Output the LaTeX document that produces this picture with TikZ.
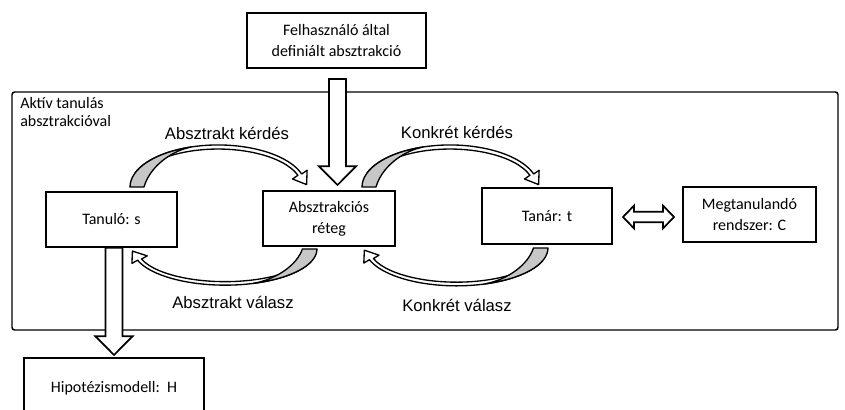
\documentclass[tikz,border=0pt]{standalone}
\usepackage{fontspec}
\setmainfont{Carlito}
\newfontfamily\labelfont{Liberation Sans}
\usetikzlibrary{calc}

\tikzset{
  box/.style={draw, line width=1.5pt, fill=white, inner sep=0pt, align=center,
    font=\fontsize{12}{15.5}\selectfont},
  edgelabel/.style={font=\labelfont\fontsize{12.5}{15}\selectfont, inner sep=0pt},
  framelabel/.style={align=left, inner sep=0pt, font=\fontsize{12}{13.5}\selectfont},
  hollow/.style={draw, line width=1.3pt, fill=white, line join=miter},
  band/.style={draw, line width=1pt, fill=white, line join=round},
  bandshade/.style={draw, line width=1pt, fill=black!22, line join=round},
  % curved band arrow: origin at the outer edge of its wide end
  bendarrow/.pic={
    \path[band] (5.3,-14.4) arc[start angle=200, end angle=342, x radius=88, y radius=42]
      -- (177.1,-16.7) -- (176.6,-2.4) -- (162.5,-8.0) -- (167.9,-11.7)
      arc[start angle=342, end angle=200, x radius=84, y radius=38] -- cycle;
    \path[bandshade] (0,0) arc[start angle=180, end angle=252, x radius=88, y radius=42]
      .. controls (38,-35) and (19,-18) .. (14,0) -- cycle;
  }
}

% hollow block arrow pointing down, from #1 to the tip #2
\newcommand\downblock[2]{%
  \draw[hollow] let \p1=(#1), \p2=(#2) in
    (\x1-6.4pt,\y1) -- (\x1+6.4pt,\y1) -- (\x1+6.4pt,\y2+14pt) -- (\x1+13.9pt,\y2+14pt)
    -- (\x1,\y2) -- (\x1-13.9pt,\y2+14pt) -- (\x1-6.4pt,\y2+14pt) -- cycle;}

% hollow two-headed block arrow between #1 and #2
\newcommand\sideblock[2]{%
  \draw[hollow] let \p1=(#1), \p2=(#2) in
    (\x1,\y1) -- (\x1+8.3pt,\y1+8.6pt) -- (\x1+8.3pt,\y1+4pt) -- (\x2-8.3pt,\y1+4pt)
    -- (\x2-8.3pt,\y1+8.6pt) -- (\x2,\y1) -- (\x2-8.3pt,\y1-8.6pt) -- (\x2-8.3pt,\y1-4pt)
    -- (\x1+8.3pt,\y1-4pt) -- (\x1+8.3pt,\y1-8.6pt) -- cycle;}

\begin{document}
\begin{tikzpicture}[x=0.75pt, y=-0.75pt]
  \useasboundingbox (0,0) rectangle (845,410);
  \clip (0,0) rectangle (845,410);

  % enclosing frame
  \draw[line width=1.1pt, rounded corners=2pt] (12,92) rectangle (838,330);
  \node[framelabel, anchor=north west] (frametitle) at (20,97) {Aktív tanulás\\absztrakcióval};

  % boxes
  \node[box, minimum width=179pt*0.75, minimum height=55pt*0.75] (user) at (336.5,40.5)
    {Felhasználó által\\definiált absztrakció};
  \node[box, minimum width=131pt*0.75, minimum height=55pt*0.75] (tan) at (111.5,219.5) {Tanuló: s};
  \node[box, minimum width=132pt*0.75, minimum height=55pt*0.75] (layer) at (329,218.5)
    {Absztrakciós\\réteg};
  \node[box, minimum width=130pt*0.75, minimum height=56pt*0.75] (tanar) at (547,216) {Tanár: t};
  \node[box, minimum width=133pt*0.75, minimum height=55pt*0.75] (meg) at (749.5,214.5)
    {Megtanulandó\\rendszer: C};
  \node[box, minimum width=180pt*0.75, minimum height=60pt*0.75] (hyp) at (114,388)
    {Hipotézismodell:~~H};

  % block arrows
  \coordinate (ua) at ($(user.south)+(1,10)$);
  \coordinate (ub) at ($(layer.north)+(8.5,-5)$);
  \downblock{ua}{ub}
  \coordinate (ha) at ($(hyp.north |- tan.south)+(0,-0.3)$);
  \coordinate (hb) at ($(hyp.north)+(0,-2)$);
  \downblock{ha}{hb}
  \coordinate (da) at ($(tanar.east)+(10,1)$);
  \coordinate (db) at ($(meg.west)+(-8,0)$);
  \sideblock{da}{db}

  % curved question / answer arrows
  \coordinate (qa) at ($(tan.north)+(18.5,-4)$);
  \coordinate (qb) at ($(layer.north)+(33,-3)$);
  \coordinate (ra) at ($(layer.south)+(-12,2)$);
  \coordinate (rb) at ($(tanar.south)+(1,3)$);
  \pic at (qa) {bendarrow};
  \pic at (qb) {bendarrow};
  \pic[rotate=180, xscale=1.045, yscale=0.86] at (ra) {bendarrow};
  \pic[rotate=180, xscale=1.04, yscale=0.9] at (rb) {bendarrow};

  % arrow labels
  \node[edgelabel] (l1) at (227,133) {Absztrakt kérdés};
  \node[edgelabel] (l2) at (457,132) {Konkrét kérdés};
  \node[edgelabel] (l3) at (233,302) {Absztrakt válasz};
  \node[edgelabel] (l4) at (457,305) {Konkrét válasz};
\end{tikzpicture}
\end{document}
